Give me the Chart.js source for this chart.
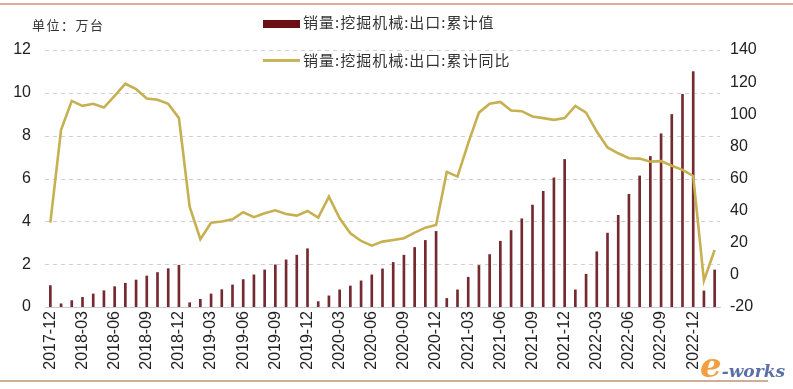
<!DOCTYPE html>
<html>
<head>
<meta charset="utf-8">
<script src="https://cdn.jsdelivr.net/npm/chart.js@4"></script>
<style>
  html, body { margin: 0; padding: 0; background: #fff; }
  #wrap { position: relative; width: 793px; height: 389px; overflow: hidden; }
  canvas { position: absolute; left: 0; top: 0; }
  .cjk { font-family: "Noto Sans CJK SC", sans-serif; color: #333; position: absolute; white-space: nowrap; }
  #topline { position: absolute; left: 0; top: 3px; width: 793px; height: 2px; background: #dcae98; }
  #botline { position: absolute; left: 0; top: 380px; width: 768px; height: 2px; background: #cfae98; }
  #unit { left: 32px; top: 15px; font-size: 13px; letter-spacing: 1.5px; }
  .lg { left: 303px; font-size: 15px; letter-spacing: 1px; line-height: 18px; }
  #lg1 { top: 13px; }
  #lg2 { top: 51px; }
  #box1 { position: absolute; left: 263px; top: 20px; width: 37px; height: 8px; background: #6b0f12; }
  #ln2 { position: absolute; left: 263px; top: 59px; width: 37px; height: 3px; background: #c8b45a; }
  #logo { position: absolute; left: 700px; top: 345px; font-family: "DejaVu Serif", serif; font-style: italic; font-weight: bold; white-space: nowrap; }
  #logo .e { color: #f0a040; font-size: 34px; }
  #logo .w { color: #5b6fa8; font-size: 17px; }
</style>
</head>
<body>
<div id="wrap">
  <canvas id="c" width="793" height="389"></canvas>
  <div id="topline"></div>
  <div id="botline"></div>
  <div id="unit" class="cjk">单位：万台</div>
  <div id="box1"></div>
  <div id="lg1" class="cjk lg">销量:挖掘机械:出口:累计值</div>
  <div id="ln2"></div>
  <div id="lg2" class="cjk lg">销量:挖掘机械:出口:累计同比</div>
  <div id="logo"><span class="e">e</span><span class="w">-works</span></div>
</div>
<script>
const months = [
  "2017-12",
  "2018-01","2018-02","2018-03","2018-04","2018-05","2018-06","2018-07","2018-08","2018-09","2018-10","2018-11","2018-12",
  "2019-01","2019-02","2019-03","2019-04","2019-05","2019-06","2019-07","2019-08","2019-09","2019-10","2019-11","2019-12",
  "2020-01","2020-02","2020-03","2020-04","2020-05","2020-06","2020-07","2020-08","2020-09","2020-10","2020-11","2020-12",
  "2021-01","2021-02","2021-03","2021-04","2021-05","2021-06","2021-07","2021-08","2021-09","2021-10","2021-11","2021-12",
  "2022-01","2022-02","2022-03","2022-04","2022-05","2022-06","2022-07","2022-08","2022-09","2022-10","2022-11","2022-12",
  "2023-01","2023-02"
];
const cumulativeExports = [
  1.0,
  0.15, 0.3, 0.45, 0.61, 0.76, 0.95, 1.11, 1.26, 1.45, 1.61, 1.79, 1.95,
  0.2, 0.36, 0.61, 0.81, 1.03, 1.28, 1.5, 1.73, 1.97, 2.2, 2.42, 2.72,
  0.25, 0.52, 0.8, 0.98, 1.22, 1.5, 1.78, 2.08, 2.42, 2.78, 3.11, 3.53,
  0.4, 0.8, 1.39, 1.94, 2.45, 3.07, 3.57, 4.12, 4.76, 5.4, 6.03, 6.89,
  0.8, 1.53, 2.58, 3.45, 4.28, 5.26, 6.12, 7.03, 8.09, 8.99, 9.93, 10.99,
  0.75, 1.73
];
const cumulativeYoY = [
  32.5,
  90.3, 108.3, 105.2, 106.5, 104.2, 111.5, 119, 115.6, 109.8, 109, 106.5, 97.6,
  42.5, 22.2, 32.5, 33.2, 34.6, 39, 35.9, 38.4, 40.2, 37.9, 36.9, 39.8,
  35.6, 48.7, 35.2, 25.9, 21.1, 18.2, 20.7, 21.7, 22.8, 26.3, 29.4, 31.1,
  64.1, 61.2, 82, 101, 106.5, 107.7, 102.3, 101.9, 98.6, 97.6, 96.5, 97.6,
  105.2, 101, 89.2, 79.3, 75.7, 72.6, 72.4, 70.5, 70.8, 67.9, 65.4, 61.6,
  -3.6, 15.5
];
const leftTicks = { min: 0, max: 12, step: 2 };
const rightTicks = { min: -20, max: 140, step: 20 };
const seriesNames = ["销量:挖掘机械:出口:累计值", "销量:挖掘机械:出口:累计同比"];

const tickFont = { family: "'Liberation Sans', Arial, sans-serif", size: 16 };

// dashed horizontal grid lines at the left-axis ticks
const dashedGrid = {
  id: 'dashedGrid',
  beforeDatasetsDraw(chart) {
    const { ctx, chartArea } = chart;
    const ys = chart.scales.y;
    ctx.save();
    ctx.strokeStyle = '#cfcfcf';
    ctx.lineWidth = 1;
    ctx.setLineDash([4, 4]);
    ys.ticks.forEach(t => {
      if (t.value === leftTicks.min) return;
      const py = Math.round(ys.getPixelForValue(t.value)) + 0.5;
      ctx.beginPath();
      ctx.moveTo(chartArea.left, py);
      ctx.lineTo(chartArea.right, py);
      ctx.stroke();
    });
    ctx.restore();
  }
};

new Chart(document.getElementById('c'), {
  data: {
    labels: months,
    datasets: [
      {
        type: 'line', label: seriesNames[1], data: cumulativeYoY, yAxisID: 'y1',
        borderColor: '#c6b052', borderWidth: 2.6, pointRadius: 0, tension: 0, order: 0
      },
      {
        type: 'bar', label: seriesNames[0], data: cumulativeExports, yAxisID: 'y',
        backgroundColor: '#742a30', barThickness: 2, order: 1
      }
    ]
  },
  options: {
    responsive: false,
    animation: false,
    devicePixelRatio: 1,
    layout: { padding: { top: 50, left: 0, right: 0, bottom: 0 } },
    plugins: { legend: { display: false }, tooltip: { enabled: false } },
    scales: {
      x: {
        offset: true,
        grid: { display: false, drawTicks: false },
        border: { display: true, color: '#c9ccd3', width: 1 },
        ticks: {
          autoSkip: false, maxRotation: 90, minRotation: 90, padding: 4,
          color: '#222', font: tickFont,
          callback: function(v, i) { return i % 3 === 0 ? months[i] : ''; }
        },
        afterFit: function(s) { s.height = 82; }
      },
      y: {
        position: 'left', min: leftTicks.min, max: leftTicks.max,
        grid: { display: false, drawTicks: false },
        border: { display: false },
        ticks: { stepSize: leftTicks.step, padding: 14, color: '#222', font: tickFont },
        afterFit: function(s) { s.width = 45; }
      },
      y1: {
        position: 'right', min: rightTicks.min, max: rightTicks.max,
        grid: { display: false, drawTicks: false },
        border: { display: false },
        ticks: { stepSize: rightTicks.step, padding: 10, color: '#222', font: tickFont },
        afterFit: function(s) { s.width = 73; }
      }
    }
  },
  plugins: [dashedGrid]
});
</script>
</body>
</html>
